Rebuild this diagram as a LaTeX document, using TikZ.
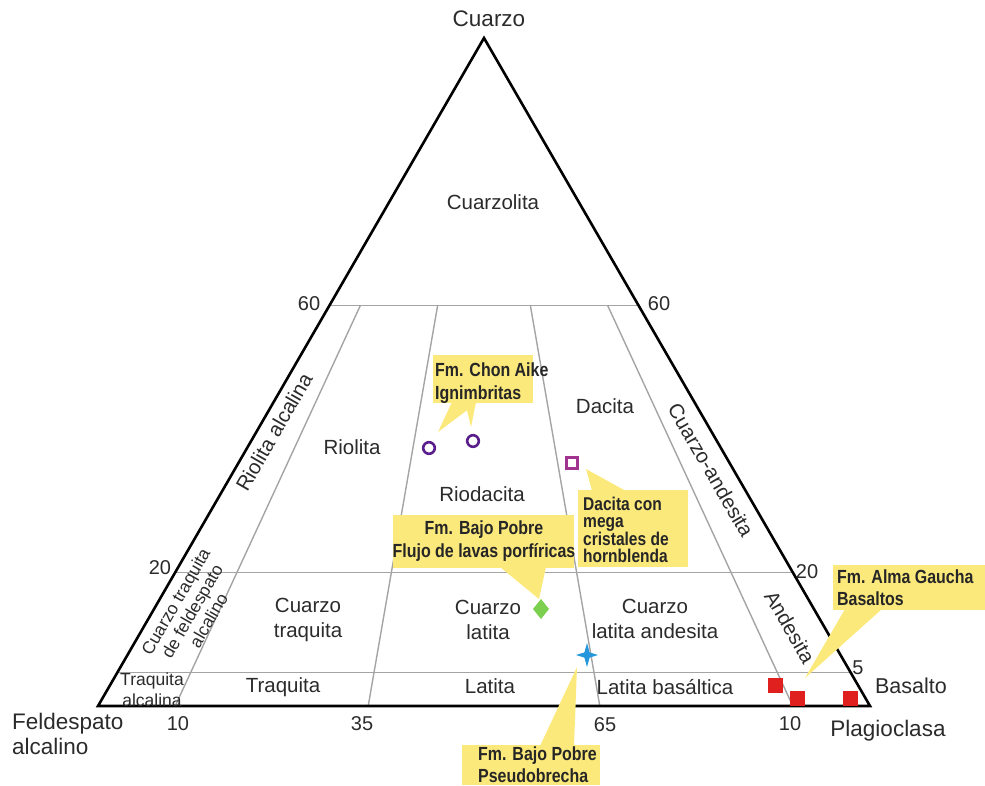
\documentclass[tikz,border=0pt]{standalone}
\usepackage{fontspec}
\setmainfont{Liberation Sans}
\newfontfamily\calloutfont[FakeStretch=0.84]{Liberation Sans}
\usetikzlibrary{calc}
\definecolor{txt}{HTML}{2B2B2B}
\definecolor{gridc}{HTML}{A4A4A4}
\definecolor{callout}{HTML}{FCE97C}
\definecolor{purp}{HTML}{5A1E8C}
\definecolor{magen}{HTML}{A2338E}
\definecolor{greenm}{HTML}{7CCF4F}
\definecolor{bluem}{HTML}{2496DC}
\definecolor{redm}{HTML}{E0201F}
\tikzset{
  gridline/.style={draw=gridc, line width=1.4},
  lab/.style={text=txt, inner sep=0pt, font=\fontsize{20.5}{25}\selectfont, align=center},
  smalllab/.style={text=txt, inner sep=0pt, font=\fontsize{17.5}{21}\selectfont, align=center},
  cornerlab/.style={text=txt, inner sep=0pt, font=\fontsize{22.5}{26}\selectfont},
  numlab/.style={text=txt, inner sep=0pt, font=\fontsize{20}{24}\selectfont},
  callbox/.style={fill=callout, draw=none},
  calltext/.style={text=black!85, inner sep=0pt, font=\calloutfont\bfseries\fontsize{19}{23}\selectfont},
  wedge/.style={fill=callout, draw=none},
}
\begin{document}
\begin{tikzpicture}[x=1pt,y=-1pt]
\useasboundingbox (0,0) rectangle (985,785);
\coordinate (Q) at (484,38);
\coordinate (A) at (98,706);
\coordinate (P) at (870,706);
\foreach \q/\n in {0.6/60,0.2/20,0.05/5}{
  \coordinate (L\n) at ($(A)!\q!(Q)$);
  \coordinate (R\n) at ($(P)!\q!(Q)$);
}
% grid lines
\draw[gridline] (L60) -- (R60);
\draw[gridline] (L20) -- (R20);
\draw[gridline] (L5) -- (R5);
\foreach \r in {0.1,0.35,0.65,0.9}{
  \draw[gridline] ($(L60)!\r!(R60)$) -- ($(A)!\r!(P)$);
}
% triangle
\draw[line width=2.6, line join=miter] (A) -- (Q) -- (P) -- cycle;

% corner labels
\node[cornerlab] (cq) at (489,19) {Cuarzo};
\node[cornerlab, anchor=west, align=left, font=\fontsize{22.5}{25}\selectfont] (cf) at (12,734) {Feldespato\\alcalino};
\node[cornerlab] (cp) at (888,731) {Plagioclasa};

% numbers
\node[numlab] (n60l) at (309,304) {60};
\node[numlab] (n60r) at (659,304) {60};
\node[numlab] (n20l) at (160,568) {20};
\node[numlab] (n20r) at (807,572) {20};
\node[numlab] (n5) at (858,668) {5};
\node[numlab] (n10a) at (178,724) {10};
\node[numlab] (n35) at (362,724) {35};
\node[numlab] (n65) at (605,725) {65};
\node[numlab] (n10b) at (790,724) {10};

% field labels
\node[lab] (cuarzolita) at (493,202) {Cuarzolita};
\node[lab] (riolita) at (352,447) {Riolita};
\node[lab] (riodacita) at (482,494) {Riodacita};
\node[lab] (dacita) at (605,406) {Dacita};
\node[lab, rotate=60] (rioalc) at (274,432) {Riolita alcalina};
\node[lab, rotate=-60] (cuand) at (711,470) {Cuarzo-andesita};
\node[lab, rotate=-60] (andes) at (790,627) {Andesita};
\node[smalllab, rotate=60, font=\fontsize{17.5}{19}\selectfont] (cqtfa) at (192,611) {Cuarzo traquita\\de feldespato\\alcalino};
\node[lab] (cqtraq) at (308,620) {Cuarzo\\traquita};
\node[lab] (cqlat) at (488,620) {Cuarzo\\latita};
\node[lab] (cqlatand) at (655,619) {Cuarzo\\latita andesita};
\node[smalllab] (traqalc) at (152,690) {Traquita\\alcalina};
\node[lab] (traq) at (283,687) {Traquita};
\node[lab] (lat) at (490,686) {Latita};
\node[lab] (latbas) at (665,687) {Latita basáltica};
\node[cornerlab, font=\fontsize{21.5}{25}\selectfont] (basalto) at (911,686) {Basalto};

% data point coordinates
\coordinate (c1) at (429,448);
\coordinate (c2) at (473,441);
\coordinate (sq) at (572,463);
\coordinate (dm) at (541,609);
\coordinate (st) at (587,655);
\coordinate (r1) at (775,685);
\coordinate (r2) at (797,698);
\coordinate (r3) at (850,698);

% callouts: Chon Aike
\fill[wedge] (452,402) -- (478,402) -- (438,432) -- cycle;
\fill[wedge] (465,402) -- (476,402) -- (471,427) -- cycle;
\fill[callbox] (433,355) rectangle (533,403);
\node[calltext, anchor=west, align=left] (tchon) at (435,383) {Fm. Chon Aike\\Ignimbritas};
% Dacita con
\fill[wedge] (592,491) -- (626,491) -- (586,469) -- cycle;
\fill[callbox] (578,490) rectangle (688,567);
\node[calltext, anchor=west, align=left, font=\calloutfont\bfseries\fontsize{18.5}{16.8}\selectfont] (tdac) at (583,530) {Dacita con\\mega\\cristales de\\hornblenda};
% Bajo Pobre flujo
\fill[wedge] (500,567) -- (546,567) -- (539,599) -- cycle;
\fill[callbox] (393,515) rectangle (574,568);
\node[calltext, align=center] (tflujo) at (484,541) {Fm. Bajo Pobre\\Flujo de lavas porfíricas};
% Alma Gaucha
\fill[wedge] (845,609) -- (882,609) -- (805,678) -- cycle;
\fill[callbox] (833,565) rectangle (985,610);
\node[calltext, anchor=west, align=left, font=\calloutfont\bfseries\fontsize{19}{22}\selectfont] (talma) at (837,588) {Fm. Alma Gaucha\\Basaltos};
% Pseudobrecha
\fill[wedge] (540,746) -- (574,746) -- (577,667) -- cycle;
\fill[callbox] (462,745) rectangle (600,785);
\node[calltext, anchor=west, align=left, font=\calloutfont\bfseries\fontsize{19}{22}\selectfont] (tpseudo) at (478,765) {Fm. Bajo Pobre\\Pseudobrecha};

% markers
\draw[purp, line width=2.6] (c1) circle (5.8);
\draw[purp, line width=2.6] (c2) circle (5.8);
\draw[magen, line width=3.2] ($(sq)+(-5.2,-5.2)$) rectangle ($(sq)+(5.2,5.2)$);
\fill[greenm] ($(dm)+(0,-10)$) -- ($(dm)+(8,0)$) -- ($(dm)+(0,10)$) -- ($(dm)+(-8,0)$) -- cycle;
\fill[bluem] ($(st)+(0,-12)$) -- ($(st)+(2.6,-2.6)$) -- ($(st)+(11,0)$) -- ($(st)+(2.6,2.6)$) -- ($(st)+(0,12)$) -- ($(st)+(-2.6,2.6)$) -- ($(st)+(-11,0)$) -- ($(st)+(-2.6,-2.6)$) -- cycle;
\foreach \p in {r1,r2,r3}{
  \fill[redm] ($(\p)+(-7.5,-7.5)$) rectangle ($(\p)+(7.5,7.5)$);
}
\end{tikzpicture}
\end{document}
